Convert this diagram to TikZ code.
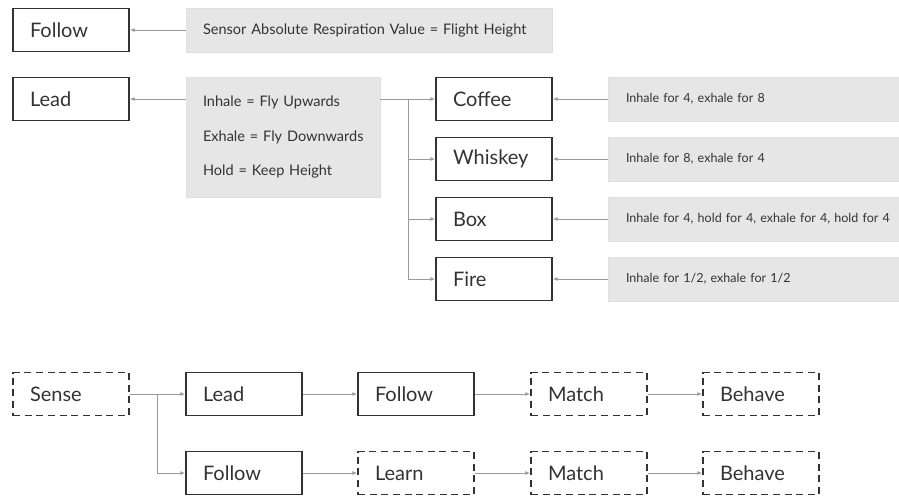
\documentclass[tikz,border=0pt]{standalone}
\usepackage{fontspec}
\setmainfont{Lato}
\usetikzlibrary{arrows.meta}
\definecolor{boxgray}{HTML}{E6E6E7}
\definecolor{linegray}{HTML}{9A9A9A}
\definecolor{ink}{HTML}{333333}

\begin{document}
\begin{tikzpicture}[x=0.75pt,y=-0.75pt]
			\tikzstyle{es} = [-{Latex[length=3.5pt,width=3pt]}, draw=linegray, line width=0.6pt]
			\tikzstyle{state} = [draw=ink, line width=1.4pt, minimum height=32.25pt, text width=61.5pt, inner xsep=12.75pt, inner ysep=0pt, align=left, text=ink, font=\fontsize{15}{17}\selectfont]
			\tikzstyle{maybe} = [state, dash pattern=on 5.25pt off 3.5pt]
			\tikzstyle{note} = [fill=boxgray, draw=gray!25, line width=0.5pt, inner ysep=0pt, align=left, text=ink]
			\tikzstyle{pattern} = [note, inner xsep=13.5pt, text width=228pt, minimum height=33pt, font=\fontsize{9.4}{11}\selectfont]
			\useasboundingbox (0,0) rectangle (899,497);
			\node [state] (follow) at (71,30) {Follow};
			\node [state] (lead) at (71,99) {Lead};
			\node [note, inner xsep=12.75pt, text width=249pt, minimum height=33pt, font=\fontsize{10.9}{13}\selectfont] (absolute) at (369,30) {Sensor Absolute Respiration Value = Flight Height};
			\node [note, inner xsep=12.75pt, text width=120pt, minimum height=90pt, font=\fontsize{10.9}{26}\selectfont] (relative) at (283,137) {\mbox{Inhale = Fly Upwards}\\\mbox{Exhale = Fly Downwards}\\\mbox{Hold = Keep Height}};
			\draw [es] (absolute) -- (follow);
			\draw [es] (relative.west |- lead) -- (lead);
			\node [state] (coffee) at (494,99) {Coffee};
			\node [state] (whiskey) at (494,159) {Whiskey};
			\node [state] (box) at (494,219) {Box};
			\node [state] (fire) at (494,279) {Fire};
			\coordinate (fork) at (408,99);
			\draw [es] (relative.east |- coffee) -- (coffee);
			\draw [es] (fork) |- (whiskey);
			\draw [es] (fork) |- (box);
			\draw [es] (fork) |- (fire);
			\node [pattern] (r1) at (778,99) {Inhale for 4, exhale for 8};
			\node [pattern] (r2) at (778,159) {Inhale for 8, exhale for 4};
			\node [pattern] (r3) at (778,219) {Inhale for 4, hold for 4, exhale for 4, hold for 4};
			\node [pattern] (r4) at (778,279) {Inhale for 1/2, exhale for 1/2};
			\draw [es] (r1) -- (coffee);
			\draw [es] (r2) -- (whiskey);
			\draw [es] (r3) -- (box);
			\draw [es] (r4) -- (fire);
			\node [maybe] (sense) at (71,394) {Sense};
			\node [state] (lead2) at (244,394) {Lead};
			\node [state] (follow2) at (416,394) {Follow};
			\node [maybe] (match1) at (589,394) {Match};
			\node [maybe] (behave1) at (761,394) {Behave};
			\node [state] (follow3) at (244,473) {Follow};
			\node [maybe] (learn) at (416,473) {Learn};
			\node [maybe] (match2) at (589,473) {Match};
			\node [maybe] (behave2) at (761,473) {Behave};
			\coordinate (split) at (157,394);
			\draw [es] (sense) -- (lead2);
			\draw [es] (split) |- (follow3);
			\draw [es] (lead2) -- (follow2);
			\draw [es] (follow2) -- (match1);
			\draw [es] (match1) -- (behave1);
			\draw [es] (follow3) -- (learn);
			\draw [es] (learn) -- (match2);
			\draw [es] (match2) -- (behave2);
		\end{tikzpicture}
\end{document}
